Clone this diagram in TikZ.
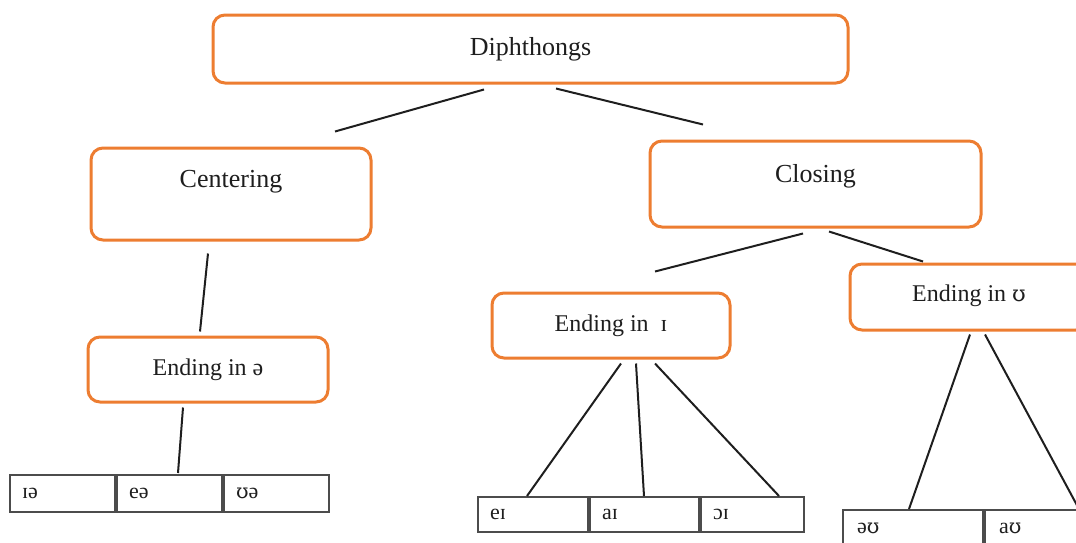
\documentclass[tikz,border=0pt]{standalone}
\usepackage{fontspec}
\setmainfont{Liberation Serif}
\newfontfamily\ipa[Scale=0.92]{DejaVu Serif}
\usepackage{tikz}
\usetikzlibrary{positioning,calc}
\definecolor{orangeboite}{HTML}{ED7D31}
\definecolor{encre}{HTML}{1E1E1E}

\begin{document}
\begin{tikzpicture}[x=0.5pt,y=-0.5pt]
\tikzstyle{boite}=[draw=orangeboite,line width=1.5pt,rounded corners=6pt,fill=white,text=encre]
\tikzstyle{case}=[draw=black!70,line width=1pt,inner xsep=6pt,align=left,text=encre,font=\fontsize{11}{13}\selectfont]
\tikzstyle{lien}=[draw=encre,line width=1pt]
\def\Px{0.5pt}
\useasboundingbox (0,0) rectangle (1076,542);
\clip (0,0) rectangle (1076,542);
% boites
\node[boite,minimum width=635*\Px,minimum height=68*\Px,font=\fontsize{13}{15}\selectfont] (diph) at (530.5,49) {Diphthongs};
\node[boite,minimum width=280*\Px,minimum height=92*\Px,font=\fontsize{13}{15}\selectfont,text height=10pt,text depth=16.9pt] (cent) at (231,194) {Centering};
\node[boite,minimum width=331*\Px,minimum height=86*\Px,font=\fontsize{13}{15}\selectfont,text height=10pt,text depth=11.9pt] (clos) at (815.5,184) {Closing};
\node[boite,minimum width=240*\Px,minimum height=65*\Px,font=\fontsize{12}{14}\selectfont] (endA) at (208,369.5) {Ending in ə};
\node[boite,minimum width=238*\Px,minimum height=65*\Px,font=\fontsize{12}{14}\selectfont] (endI) at (611,325.5) {Ending in \ ɪ};
\node[boite,minimum width=238*\Px,minimum height=66*\Px,font=\fontsize{12}{14}\selectfont,text height=9pt,text depth=5pt] (endU) at (969,297) {Ending in {\ipa ʊ}};
% cases
\node[case,minimum height=37*\Px,text width=40.5pt] (ia) at (62.5,493.5) {ɪə};
\node[case,minimum height=37*\Px,text width=40.5pt,right=0pt of ia] (ea) {eə};
\node[case,minimum height=37*\Px,text width=40.5pt,right=0pt of ea] (ua) {{\ipa ʊ}ə};
\node[case,minimum height=35*\Px,text width=43pt] (ei) at (533,514.5) {eɪ};
\node[case,minimum height=35*\Px,text width=42.5pt,right=0pt of ei] (ai) {aɪ};
\node[case,minimum height=35*\Px,text width=39.5pt,right=0pt of ai] (oi) {ɔɪ};
\node[case,minimum height=37*\Px,text width=56pt,inner xsep=7pt] (ou) at (913,528.5) {ə{\ipa ʊ}};
\node[case,minimum height=37*\Px,text width=56pt,inner xsep=7pt,right=0pt of ou] (au) {a{\ipa ʊ}};
% liens
\draw[lien] ($(diph.south)+(-46.5,5)$) -- ($(cent.north)+(104,-15)$);
\draw[lien] ($(diph.south)+(25.5,4)$) -- ($(clos.north)+(-112.5,-15)$);
\draw[lien] ($(cent.south)+(-23,12)$) -- ($(endA.north)+(-8,-4)$);
\draw[lien] ($(endA.south)+(-25,4)$) -- ($(ea.north)+(8.5,-1)$);
\draw[lien] ($(clos.south)+(-12.5,5)$) -- ($(endI.north)+(44,-20)$);
\draw[lien] ($(clos.south)+(13.5,3)$) -- ($(endU.north)+(-46,-1)$);
\draw[lien] ($(endI.south)+(10,4)$) -- ($(ei.north)+(-6,0)$);
\draw[lien] ($(endI.south)+(25,4)$) -- ($(ai.north)+(-0.5,0)$);
\draw[lien] ($(endI.south)+(44,4)$) -- ($(oi.north)+(26.5,0)$);
\draw[lien] ($(endU.south)+(1,3)$) -- ($(ou.north)+(-4,0)$);
\draw[lien] ($(endU.south)+(16,3)$) -- ($(au.north)+(24,0)$);
\end{tikzpicture}
\end{document}
